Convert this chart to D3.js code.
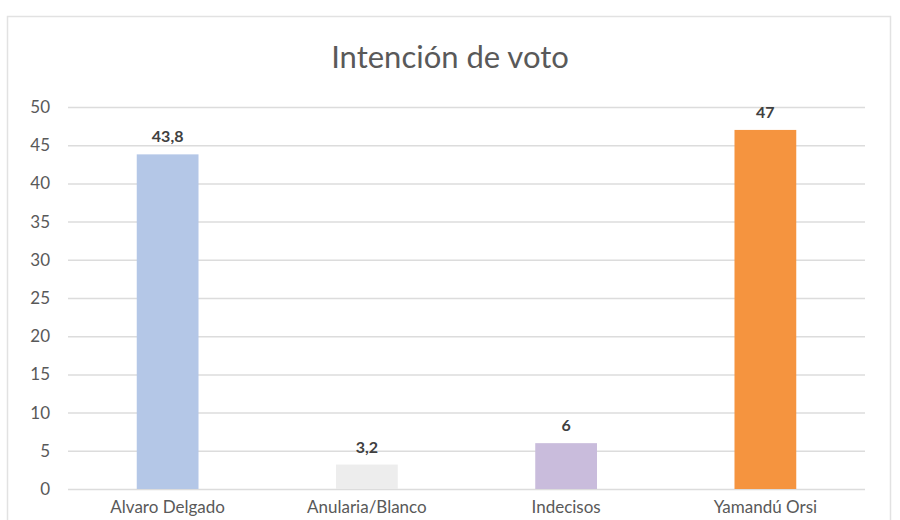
<!DOCTYPE html>
<html><head><meta charset="utf-8">
<script src="https://cdn.jsdelivr.net/npm/d3@7"></script>
<style>body{margin:0;background:#fff;} text{font-family:Lato,"Open Sans",sans-serif;}</style>
</head><body>
<svg id="c" width="900" height="520"></svg>
<script>
const categories = ["Alvaro Delgado", "Anularia/Blanco", "Indecisos", "Yamandú Orsi"];
const values = [43.8, 3.2, 6, 47];
const valueLabels = ["43,8", "3,2", "6", "47"];
const colors = ["#b4c7e7", "#ededed", "#c9bcdc", "#f5943f"];
const yTicks = [0, 5, 10, 15, 20, 25, 30, 35, 40, 45, 50];
const title = "Intención de voto";

const svg = d3.select("#c");
svg.append("rect").attr("x", 7.5).attr("y", 16.5).attr("width", 883).attr("height", 520)
  .attr("fill", "#fff").attr("stroke", "#e2e2e2").attr("stroke-width", 1.5);

const x = d3.scaleBand().domain(categories).range([68, 865]).paddingInner(0.69).paddingOuter(0.345);
const y = d3.scaleLinear().domain([0, 50]).range([489, 107]);

svg.append("text").attr("x", 450).attr("y", 68).attr("text-anchor", "middle")
  .attr("font-size", 31).attr("fill", "#595959").text(title);

const ya = svg.append("g").attr("transform", "translate(68,0)")
  .call(d3.axisLeft(y).tickValues(yTicks).tickSize(-797).tickPadding(18));
ya.select(".domain").remove();
ya.selectAll(".tick line").attr("stroke", "#dcdcdc").attr("stroke-width", 1.5);
ya.selectAll(".tick text").attr("fill", "#595959").attr("font-size", 17).attr("font-family", "Lato, 'Open Sans', sans-serif");

svg.selectAll("rect.bar").data(values).join("rect").attr("class", "bar")
  .attr("x", (d, i) => x(categories[i])).attr("width", x.bandwidth())
  .attr("y", d => y(d)).attr("height", d => y(0) - y(d))
  .attr("fill", (d, i) => colors[i]);

svg.selectAll("text.vl").data(values).join("text").attr("class", "vl")
  .attr("x", (d, i) => x(categories[i]) + x.bandwidth() / 2).attr("y", d => y(d) - 12)
  .attr("text-anchor", "middle").attr("font-size", 16).attr("font-weight", "bold")
  .attr("fill", "#404040").text((d, i) => valueLabels[i]);

const xa = svg.append("g").attr("transform", "translate(0,489)")
  .call(d3.axisBottom(x).tickSize(0).tickPadding(12));
xa.select(".domain").remove();
xa.selectAll(".tick text").attr("fill", "#595959").attr("font-size", 17).attr("font-family", "Lato, 'Open Sans', sans-serif");
</script>
</body></html>
